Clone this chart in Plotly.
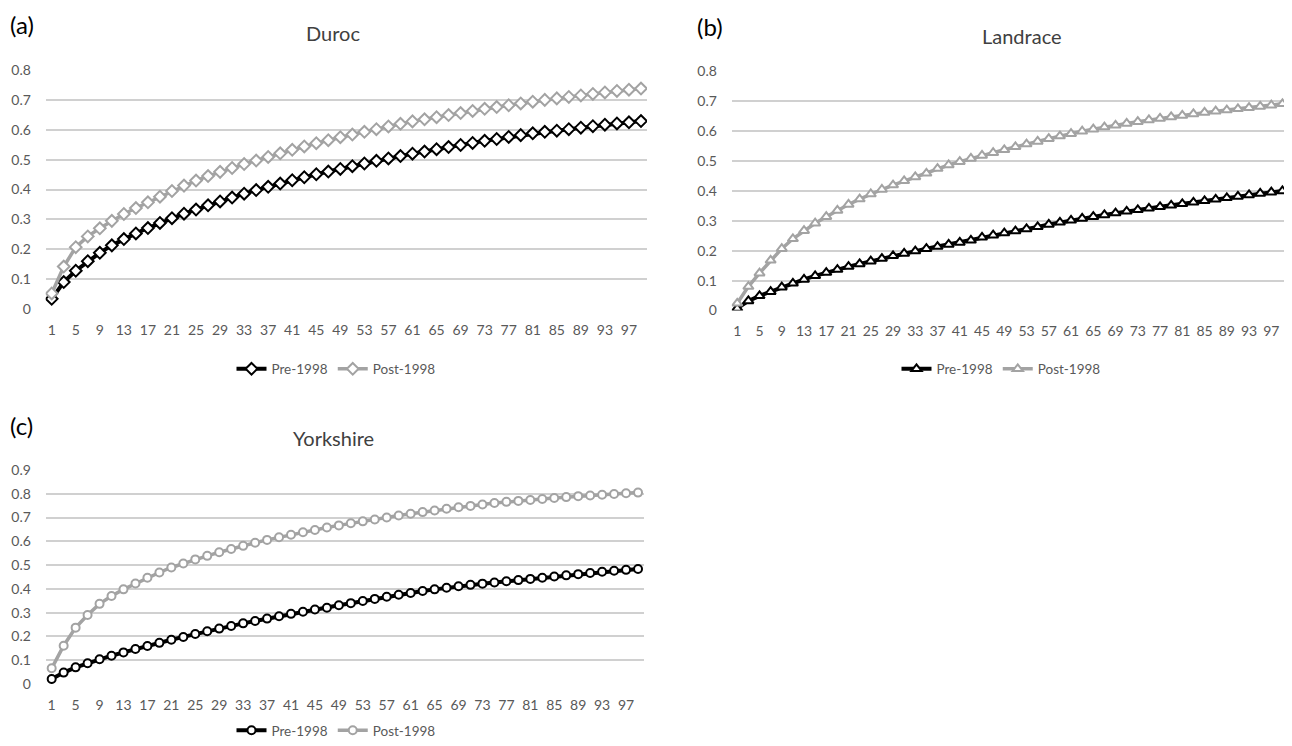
import plotly.graph_objects as go

categories = list(range(1, 100, 2))
tick_labels = list(range(1, 98, 4))

duroc_pre = [0.034, 0.090, 0.128, 0.160, 0.188, 0.213, 0.234, 0.253, 0.271, 0.288,
             0.304, 0.319, 0.333, 0.347, 0.360, 0.373, 0.386, 0.398, 0.409, 0.420,
             0.431, 0.441, 0.451, 0.460, 0.469, 0.478, 0.487, 0.496, 0.504, 0.512,
             0.520, 0.527, 0.535, 0.542, 0.549, 0.556, 0.563, 0.569, 0.576, 0.582,
             0.588, 0.593, 0.597, 0.602, 0.607, 0.612, 0.617, 0.621, 0.625, 0.629]
duroc_post = [0.052, 0.142, 0.207, 0.243, 0.270, 0.295, 0.318, 0.338, 0.357, 0.376,
              0.395, 0.413, 0.430, 0.445, 0.459, 0.472, 0.485, 0.497, 0.509, 0.521,
              0.533, 0.544, 0.555, 0.565, 0.575, 0.584, 0.593, 0.602, 0.611, 0.620,
              0.628, 0.635, 0.642, 0.649, 0.656, 0.663, 0.670, 0.676, 0.682, 0.688,
              0.694, 0.700, 0.705, 0.710, 0.715, 0.720, 0.725, 0.730, 0.734, 0.738]
landrace_pre = [0.007, 0.032, 0.049, 0.063, 0.078, 0.091, 0.104, 0.116, 0.127, 0.137,
                0.147, 0.156, 0.165, 0.174, 0.183, 0.191, 0.199, 0.207, 0.214, 0.221,
                0.228, 0.235, 0.245, 0.252, 0.259, 0.266, 0.273, 0.280, 0.288, 0.295,
                0.302, 0.308, 0.314, 0.320, 0.326, 0.332, 0.337, 0.342, 0.347, 0.352,
                0.357, 0.362, 0.367, 0.372, 0.377, 0.382, 0.387, 0.392, 0.396, 0.400]
landrace_post = [0.024, 0.080, 0.125, 0.168, 0.207, 0.240, 0.267, 0.292, 0.314, 0.335,
                 0.355, 0.373, 0.390, 0.405, 0.420, 0.434, 0.447, 0.459, 0.475, 0.487,
                 0.498, 0.509, 0.519, 0.528, 0.538, 0.548, 0.557, 0.566, 0.575, 0.584,
                 0.592, 0.600, 0.607, 0.614, 0.620, 0.626, 0.632, 0.638, 0.643, 0.648,
                 0.653, 0.658, 0.663, 0.667, 0.671, 0.675, 0.679, 0.683, 0.687, 0.692]
yorkshire_pre = [0.021, 0.048, 0.070, 0.087, 0.104, 0.119, 0.133, 0.147, 0.160, 0.173,
                 0.186, 0.198, 0.210, 0.222, 0.233, 0.244, 0.255, 0.265, 0.275, 0.285,
                 0.295, 0.304, 0.313, 0.321, 0.331, 0.340, 0.349, 0.358, 0.367, 0.375,
                 0.383, 0.391, 0.398, 0.405, 0.411, 0.417, 0.422, 0.427, 0.432, 0.437,
                 0.442, 0.447, 0.452, 0.457, 0.462, 0.467, 0.472, 0.476, 0.480, 0.484]
yorkshire_post = [0.066, 0.161, 0.237, 0.290, 0.337, 0.370, 0.398, 0.423, 0.447, 0.469,
                  0.490, 0.507, 0.524, 0.539, 0.554, 0.568, 0.581, 0.594, 0.606, 0.617,
                  0.628, 0.638, 0.648, 0.658, 0.667, 0.676, 0.684, 0.692, 0.700, 0.709,
                  0.716, 0.723, 0.730, 0.737, 0.743, 0.749, 0.755, 0.761, 0.766, 0.770,
                  0.774, 0.778, 0.782, 0.786, 0.790, 0.793, 0.796, 0.799, 0.802, 0.805]

titles = ["Duroc", "Landrace", "Yorkshire"]
panel_labels = ["(a)", "(b)", "(c)"]
series_names = ["Pre-1998", "Post-1998"]

FONT = "Lato"
BLACK = "#000000"
GRAY = "#A3A3A3"
GRID = "#D0D0D0"
TICKC = "#595959"

# page has an 8px body margin: figure sits at (8, 8)
OFF = 8
W, H = 1292 - OFF, 746 - OFF


def px(x):
    return (x - OFF) / W


def py(y):
    return 1 - (y - OFF) / H


fig = go.Figure()

panels = [
    dict(data=(duroc_pre, duroc_post), symbol="diamond", msize=9, xa="x", ya="y", legend="legend"),
    dict(data=(landrace_pre, landrace_post), symbol="triangle-up", msize=9, xa="x2", ya="y2", legend="legend2"),
    dict(data=(yorkshire_pre, yorkshire_post), symbol="circle", msize=8, xa="x3", ya="y3", legend="legend3"),
]

for p in panels:
    for vals, name, col, lw in zip(p["data"], series_names, [BLACK, GRAY], [4, 3.5]):
        fig.add_trace(go.Scatter(
            x=categories, y=vals, name=name, mode="lines+markers",
            line=dict(color=col, width=lw),
            marker=dict(symbol=p["symbol"], size=p["msize"], color="white",
                        line=dict(color=col, width=2)),
            xaxis=p["xa"], yaxis=p["ya"], legend=p["legend"],
        ))

xcommon = dict(range=[0, 100], tickmode="array", tickvals=tick_labels,
               ticktext=[str(t) for t in tick_labels], showgrid=False, zeroline=False,
               showline=False, ticks="outside", ticklen=8, tickcolor="rgba(0,0,0,0)",
               tickfont=dict(family=FONT, size=14, color=TICKC), fixedrange=True,
               automargin=False)
ycommon = dict(showgrid=True, gridcolor=GRID, gridwidth=1.5, zeroline=False, showline=False,
               ticks="outside", ticklen=11, tickcolor="rgba(0,0,0,0)",
               tickfont=dict(family=FONT, size=14, color=TICKC), fixedrange=True,
               automargin=False)

fig.update_layout(
    template="none",
    width=W, height=H, autosize=False,
    margin=dict(l=0, r=0, t=0, b=0, pad=0),
    paper_bgcolor="white", plot_bgcolor="white",
    font=dict(family=FONT, color=TICKC),
    xaxis=dict(domain=[px(45.7), px(647)], anchor="y", **xcommon),
    yaxis=dict(domain=[py(309), py(70)], anchor="x", range=[0, 0.8], dtick=0.1, **ycommon),
    xaxis2=dict(domain=[px(731.7), px(1288)], anchor="y2", **xcommon),
    yaxis2=dict(domain=[py(310.5), py(71.5)], anchor="x2", range=[0, 0.8], dtick=0.1, **ycommon),
    xaxis3=dict(domain=[px(45.7), px(644)], anchor="y3", **xcommon),
    yaxis3=dict(domain=[py(684), py(470)], anchor="x3", range=[0, 0.9], dtick=0.1, **ycommon),
    showlegend=True,
)

legend_pos = [(px(336), py(369), "middle"), (px(1001), py(369), "middle"), (px(336), 0.0, "bottom")]
for key, (lx, ly, ya) in zip(["legend", "legend2", "legend3"], legend_pos):
    fig.update_layout({key: dict(x=lx, y=ly, xanchor="center", yanchor=ya,
                                 orientation="h", font=dict(family=FONT, size=13.5, color=TICKC),
                                 bgcolor="rgba(0,0,0,0)", itemwidth=30,
                                 tracegroupgap=0)})

title_pos = [(333, 33), (1022, 36), (333, 438)]
for t, (tx, ty) in zip(titles, title_pos):
    fig.add_annotation(text=t, x=px(tx), y=py(ty), xref="paper", yref="paper", showarrow=False,
                       xanchor="center", yanchor="middle",
                       font=dict(family=FONT, size=20, color="#404040"))

# (left, top) of each label box in page pixels
label_pos = [(8, 8), (695, 10), (8, 409)]
for t, (lx, ly) in zip(panel_labels, label_pos):
    fig.add_annotation(text=t, x=px(lx), y=py(ly), xref="paper", yref="paper", showarrow=False,
                       xanchor="left", yanchor="top",
                       font=dict(family=FONT, size=24, color="#000000"))

fig.write_html("out.html")
